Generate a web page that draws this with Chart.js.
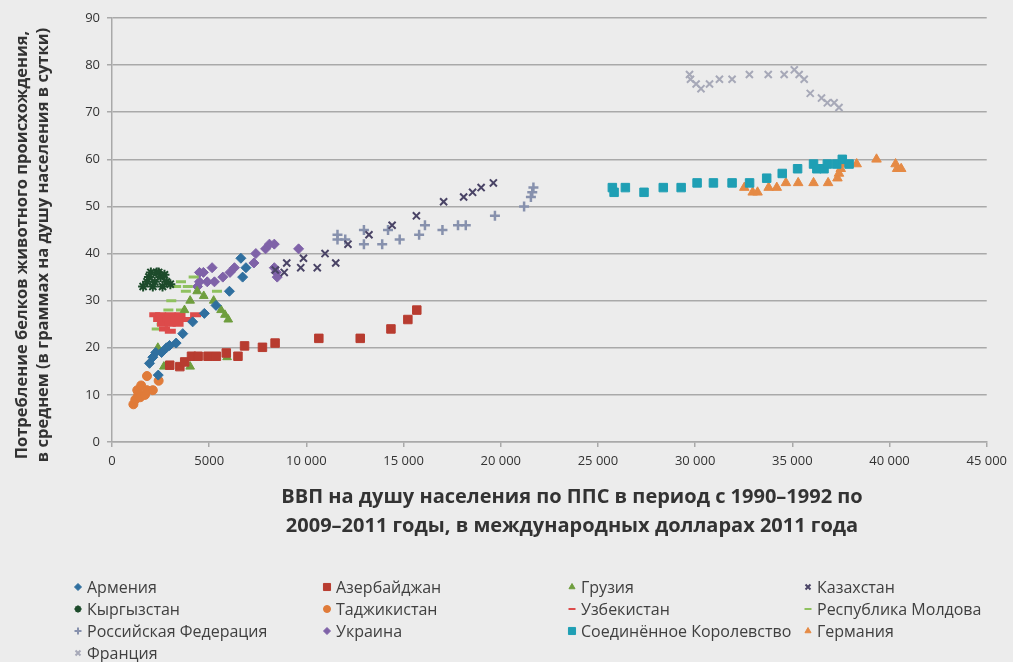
<!DOCTYPE html>
<html>
<head>
<meta charset="utf-8">
<script src="https://cdn.jsdelivr.net/npm/chart.js@4/dist/chart.umd.min.js"></script>
<style>
  html, body { margin: 0; padding: 0; background: #ececec; }
  #wrap { width: 1013px; height: 662px; }
</style>
</head>
<body>
<div id="wrap"><canvas id="chart" width="1013" height="662"></canvas></div>
<script>
// [ВВП на душу населения, белок г/сутки]
const armenia = [[1930,16.7],[2100,18],[2380,14.2],[2250,19],[2550,19],[2800,20],[2960,20.5],[3300,21],[3640,23],[4150,25.5],[4750,27.3],[5350,29],[6040,32],[6720,35],[6890,37],[6630,39]];
const azerbaijan = [[2970,16.3],[3490,16],[3740,17],[4090,18.2],[4430,18.2],[4940,18.2],[5370,18.2],[5880,18.9],[6480,18.2],[6820,20.4],[7740,20.1],[8390,21],[10640,22],[12770,22],[14350,24],[15220,26],[15680,28]];
const georgia = [[2360,20],[2670,16],[4020,16],[5920,18],[3730,28],[4020,30],[4380,32],[4720,31],[5230,30],[5610,28],[5810,27],[5980,26]];
const kazakhstan = [[8400,36.5],[8860,36],[8990,38],[9710,37],[9850,39],[10560,37],[10960,40],[11510,38],[12140,42],[13220,44],[14410,46],[15660,48],[17060,51],[18090,52],[18550,53],[18990,54],[19620,55]];
const kyrgyzstan = [[1600,33],[1800,34],[1900,35],[2000,36],[2100,33],[2200,34],[2300,36],[2400,36],[2500,35],[2600,33],[2700,35.5],[2800,34],[3000,33.5]];
const tajikistan = [[1100,8],[1200,9],[1350,10],[1300,11],[1450,9.5],[1500,12],[1700,10],[1800,11],[2100,11],[1800,14],[2400,13]];
const uzbekistan = [[2200,27],[2500,27],[3000,27],[3500,27],[4300,27],[2400,26],[2900,26],[3300,26],[3600,26],[3900,26],[2600,25],[3000,25],[3400,25],[2700,24],[3000,23.5]];
const moldova = [[2300,24],[2550,25],[2650,26],[3050,26],[2550,27],[2900,28],[3550,28],[4350,27],[3050,30],[3800,32],[5400,32],[3300,33],[3900,33],[3550,34],[4200,35]];
const russia = [[11600,43],[11600,44],[12000,43],[12960,42],[12960,45],[13900,42],[14200,45],[14800,43],[15800,44],[16100,46],[17000,45],[17800,46],[18200,46],[19700,48],[21200,50],[21550,52],[21620,53],[21680,54]];
const ukraine = [[4400,33],[4500,34],[4500,36],[4700,36],[4900,34],[5150,37],[5270,34],[5700,35],[6070,36],[6300,37],[7300,38],[7400,40],[7900,41],[8100,42],[8350,42],[9600,41],[8350,37],[8450,36],[8500,35]];
const unitedKingdom = [[25740,54],[25830,53],[26410,54],[27370,53],[28360,54],[29280,54],[30100,55],[30940,55],[31900,55],[32800,55],[33680,56],[34480,57],[35270,58],[36090,59],[36260,58],[36630,58],[36800,59],[37280,59],[37570,60],[37920,59]];
const germany = [[32530,54],[32960,53],[33210,53],[33780,54],[34200,54],[34670,55],[35300,55],[36090,55],[36840,55],[37320,56],[37400,57],[37490,58],[37570,59],[38310,59],[39330,60],[40310,59],[40390,58],[40600,58]];
const france = [[29710,78],[29760,77],[30050,76],[30300,75],[30740,76],[31250,77],[31900,77],[32790,78],[33760,78],[34580,78],[35100,79],[35350,78],[35610,77],[35920,74],[36500,73],[36800,72],[37150,72],[37400,71]];

const xTitle = ['ВВП на душу населения по ППС в период с 1990–1992 по', '2009–2011 годы, в международных долларах 2011 года'];
const yTitle = ['Потребление белков животного происхождения,', 'в среднем (в граммах на душу населения в сутки)'];

function series(label, pts, color, style, radius, bw) {
  return {
    label,
    data: pts.map(p => ({ x: p[0], y: p[1] })),
    pointStyle: style,
    pointRadius: radius,
    pointBorderWidth: bw,
    backgroundColor: color,
    borderColor: color,
    showLine: false
  };
}

const datasets = [
  series('Армения', armenia, '#2f6f9f', 'rectRot', 5, 1),
  series('Азербайджан', azerbaijan, '#b83c30', 'rect', 6, 1),
  series('Грузия', georgia, '#6f9e3e', 'triangle', 5, 1),
  series('Казахстан', kazakhstan, '#4a4466', 'crossRot', 5, 2),
  series('Кыргызстан', kyrgyzstan, '#1d4b2b', 'star', 5, 2),
  series('Таджикистан', tajikistan, '#e07b39', 'circle', 4.5, 1),
  series('Узбекистан', uzbekistan, '#dd4b4b', 'line', 5.5, 5),
  series('Республика Молдова', moldova, '#8fc15f', 'line', 5, 3),
  series('Российская Федерация', russia, '#8791ad', 'cross', 5, 2.5),
  series('Украина', ukraine, '#7f62a8', 'rectRot', 5, 1),
  series('Соединённое Королевство', unitedKingdom, '#1f9fb4', 'rect', 6, 1),
  series('Германия', germany, '#e58a45', 'triangle', 5.5, 1),
  series('Франция', france, '#a7a9b8', 'crossRot', 5, 2)
];

const textColor = '#333333';
const gridColor = '#a9a9a9';

const decor = {
  id: 'decor',
  beforeDraw(chart) {
    const ctx = chart.ctx;
    ctx.save();
    ctx.fillStyle = '#ececec';
    ctx.fillRect(0, 0, chart.width, chart.height);
    ctx.restore();
  },
  afterDraw(chart) {
    const ctx = chart.ctx;
    ctx.save();
    ctx.fillStyle = textColor;
    ctx.textAlign = 'center';
    ctx.textBaseline = 'middle';
    // x axis title
    ctx.font = 'bold 20px "Open Sans"';
    ctx.fillText(xTitle[0], 572, 497);
    ctx.fillText(xTitle[1], 572, 526);
    // y axis title
    ctx.save();
    ctx.translate(22, 245);
    ctx.rotate(-Math.PI / 2);
    ctx.font = 'bold 16.5px "Open Sans"';
    ctx.fillText(yTitle[0], 0, 0);
    ctx.fillText(yTitle[1], 0, 21);
    ctx.restore();

    // legend, 4 columns
    const colX = [78, 327, 572, 808];
    const rowY = [588, 610, 632, 654];
    ctx.font = '16px "Open Sans"';
    ctx.textAlign = 'left';
    chart.data.datasets.forEach((ds, i) => {
      const x = colX[i % 4], y = rowY[Math.floor(i / 4)];
      ctx.fillStyle = ds.backgroundColor;
      ctx.strokeStyle = ds.borderColor;
      ctx.lineWidth = Math.min(ds.pointBorderWidth, 2);
      Chart.helpers.drawPoint(ctx, {
        pointStyle: ds.pointStyle,
        radius: ds.pointStyle === 'rect' ? 5 : 3.5,
        borderWidth: Math.min(ds.pointBorderWidth, 2),
        rotation: 0
      }, x, y - 1);
      ctx.fillStyle = '#404040';
      ctx.fillText(ds.label, x + 9, y);
    });
    ctx.restore();
  }
};

function tickText(v) {
  if (v >= 10000) return String(v).replace(/\B(?=(\d{3})+(?!\d))/g, ' ');
  return String(v);
}

new Chart(document.getElementById('chart'), {
  type: 'scatter',
  data: { datasets },
  options: {
    responsive: false,
    animation: false,
    layout: { padding: { left: 0, top: 18, right: 23, bottom: 190 } },
    plugins: { legend: { display: false }, tooltip: { enabled: false } },
    scales: {
      x: {
        type: 'linear',
        min: 0, max: 45000,
        ticks: { stepSize: 5000, color: textColor, font: { family: 'Open Sans', size: 13 }, padding: 6, callback: tickText, maxRotation: 0 },
        grid: { drawOnChartArea: false, drawTicks: true, tickLength: 5, color: gridColor, lineWidth: 1.5 },
        border: { color: gridColor, width: 1.5 },
        afterFit(s) { s.height = 30; }
      },
      y: {
        min: 0, max: 90,
        ticks: { stepSize: 10, color: textColor, font: { family: 'Open Sans', size: 13 }, padding: 7 },
        grid: { color: gridColor, lineWidth: 1.5, tickLength: 5 },
        border: { color: gridColor, width: 1.5 },
        afterFit(s) { s.width = 112; }
      }
    }
  },
  plugins: [decor]
});
</script>
</body>
</html>
